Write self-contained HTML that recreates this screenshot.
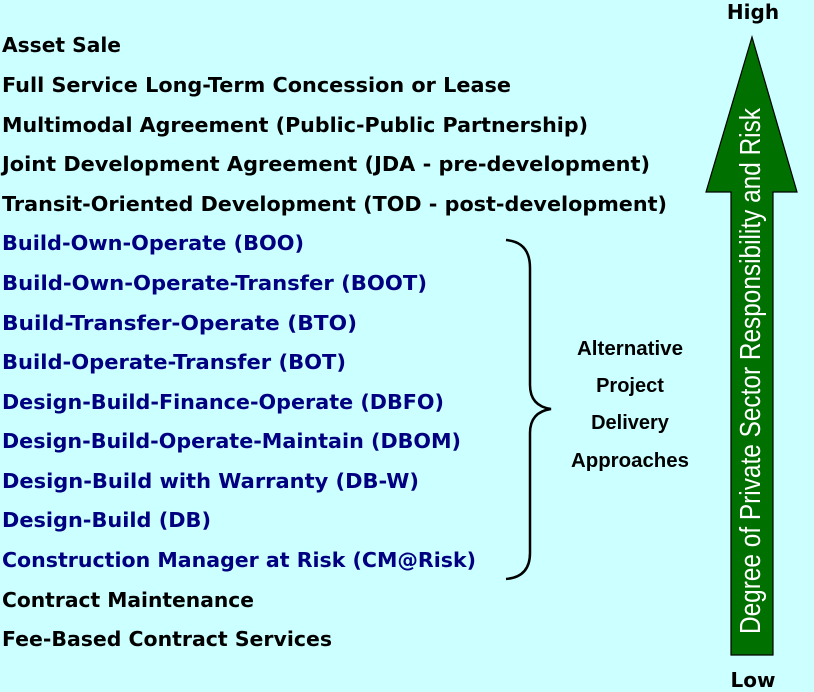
<!DOCTYPE html>
<html><head><meta charset="utf-8"><style>
html,body{margin:0;padding:0;background:#ccffff;}
svg{display:block;}
.l{font-family:"DejaVu Sans","Liberation Sans",sans-serif;font-weight:bold;font-size:20px;}
.k{fill:#000;}
.b{fill:#000080;}
.a{font-family:"Liberation Sans",Arial,sans-serif;font-weight:bold;font-size:20px;fill:#000;}
</style></head><body>
<svg width="814" height="692" viewBox="0 0 814 692" xmlns="http://www.w3.org/2000/svg">
<rect width="814" height="692" fill="#ccffff"/>
<g class="l">
<text class="k" x="2" y="52" textLength="119" lengthAdjust="spacingAndGlyphs">Asset Sale</text>
<text class="k" x="2" y="92" textLength="509" lengthAdjust="spacingAndGlyphs">Full Service Long-Term Concession or Lease</text>
<text class="k" x="2" y="132" textLength="586" lengthAdjust="spacingAndGlyphs">Multimodal Agreement (Public-Public Partnership)</text>
<text class="k" x="2" y="171" textLength="648" lengthAdjust="spacingAndGlyphs">Joint Development Agreement (JDA - pre-development)</text>
<text class="k" x="2" y="211" textLength="665" lengthAdjust="spacingAndGlyphs">Transit-Oriented Development (TOD - post-development)</text>
<text class="b" x="2" y="250" textLength="302" lengthAdjust="spacingAndGlyphs">Build-Own-Operate (BOO)</text>
<text class="b" x="2" y="290" textLength="425" lengthAdjust="spacingAndGlyphs">Build-Own-Operate-Transfer (BOOT)</text>
<text class="b" x="2" y="330" textLength="355" lengthAdjust="spacingAndGlyphs">Build-Transfer-Operate (BTO)</text>
<text class="b" x="2" y="369" textLength="344" lengthAdjust="spacingAndGlyphs">Build-Operate-Transfer (BOT)</text>
<text class="b" x="2" y="409" textLength="442" lengthAdjust="spacingAndGlyphs">Design-Build-Finance-Operate (DBFO)</text>
<text class="b" x="2" y="448" textLength="459" lengthAdjust="spacingAndGlyphs">Design-Build-Operate-Maintain (DBOM)</text>
<text class="b" x="2" y="488" textLength="417" lengthAdjust="spacingAndGlyphs">Design-Build with Warranty (DB-W)</text>
<text class="b" x="2" y="527" textLength="209" lengthAdjust="spacingAndGlyphs">Design-Build (DB)</text>
<text class="b" x="2" y="567" textLength="474" lengthAdjust="spacingAndGlyphs">Construction Manager at Risk (CM@Risk)</text>
<text class="k" x="2" y="607" textLength="252" lengthAdjust="spacingAndGlyphs">Contract Maintenance</text>
<text class="k" x="2" y="646" textLength="330" lengthAdjust="spacingAndGlyphs">Fee-Based Contract Services</text>
</g>
<path d="M506,240 Q530,242 530,268 L530,385 Q530,406 551,409 Q530,412 530,433 L530,553 Q530,577 506,579" fill="none" stroke="#000" stroke-width="2.5"/>
<g class="a" text-anchor="middle">
<text x="630" y="355" textLength="106" lengthAdjust="spacingAndGlyphs">Alternative</text>
<text x="630" y="392">Project</text>
<text x="630" y="429">Delivery</text>
<text x="630" y="467" textLength="118" lengthAdjust="spacingAndGlyphs">Approaches</text>
</g>
<path d="M752,37 L797,192 L773,192 L773,655 L731,655 L731,192 L706,192 Z" fill="#007000" stroke="#000" stroke-width="1.2"/>
<text transform="translate(760,634) rotate(-90)" x="0" y="0" font-family="Liberation Sans, Arial, sans-serif" font-size="29" fill="#fff" textLength="526" lengthAdjust="spacingAndGlyphs">Degree of Private Sector Responsibility and Risk</text>
<g class="l k" text-anchor="middle" font-size="21">
<text x="753" y="19">High</text>
<text x="753" y="687">Low</text>
</g>
</svg>
</body></html>
